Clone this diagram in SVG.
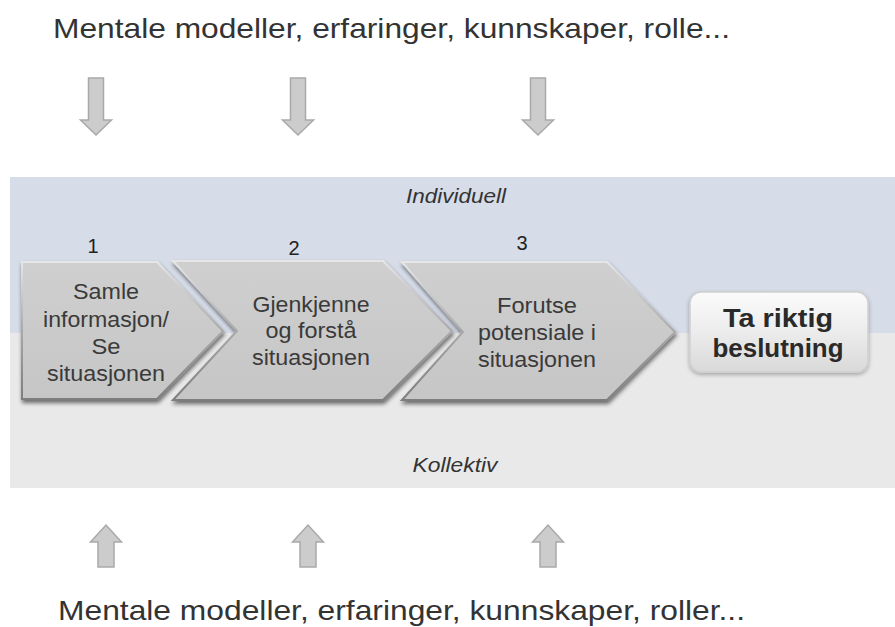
<svg xmlns="http://www.w3.org/2000/svg" width="895" height="627" viewBox="0 0 895 627">
  <style>
    .title { font-family: "Liberation Sans", Arial, sans-serif; font-size: 28px; fill: #333333; }
    .band-label { font-family: "Liberation Sans", Arial, sans-serif; font-size: 20px; font-style: italic; fill: #333333; text-anchor: middle; }
    .num { font-family: "Liberation Sans", Arial, sans-serif; font-size: 20px; fill: #222222; text-anchor: middle; }
    .step { font-family: "Liberation Sans", Arial, sans-serif; font-size: 22px; fill: #3a3a3a; text-anchor: middle; }
    .goal { font-family: "Liberation Sans", Arial, sans-serif; font-size: 26px; font-weight: bold; fill: #2a2a2a; text-anchor: middle; }
    .chev { fill: url(#chevFill); stroke: url(#chevEdge); stroke-width: 2; stroke-linejoin: miter; filter: url(#shadow); }
    .block { fill: #cccccc; stroke: #a9a9a9; stroke-width: 1.5; }
  </style>
  <defs>
    <linearGradient id="chevFill" x1="0" y1="0" x2="0" y2="1">
      <stop offset="0" stop-color="#cfcfcf"/>
      <stop offset="1" stop-color="#c6c6c6"/>
    </linearGradient>
    <linearGradient id="chevEdge" x1="0" y1="0" x2="0" y2="1">
      <stop offset="0" stop-color="#e6e6e6"/>
      <stop offset="0.5" stop-color="#a9a9a9"/>
      <stop offset="1" stop-color="#7d7d7d"/>
    </linearGradient>
    <linearGradient id="goalFill" x1="0" y1="0" x2="0" y2="1">
      <stop offset="0" stop-color="#fbfbfb"/>
      <stop offset="0.5" stop-color="#ececec"/>
      <stop offset="1" stop-color="#d9d9d9"/>
    </linearGradient>
    <filter id="shadow" x="-10%" y="-10%" width="120%" height="130%">
      <feGaussianBlur in="SourceAlpha" stdDeviation="2"/>
      <feOffset dx="1" dy="3" result="off"/>
      <feComponentTransfer><feFuncA type="linear" slope="0.55"/></feComponentTransfer>
      <feMerge><feMergeNode/><feMergeNode in="SourceGraphic"/></feMerge>
    </filter>
    <filter id="softShadow" x="-10%" y="-10%" width="120%" height="140%">
      <feGaussianBlur in="SourceAlpha" stdDeviation="2"/>
      <feOffset dx="0" dy="2"/>
      <feComponentTransfer><feFuncA type="linear" slope="0.3"/></feComponentTransfer>
      <feMerge><feMergeNode/><feMergeNode in="SourceGraphic"/></feMerge>
    </filter>
  </defs>

  <!-- headline -->
  <text class="title" x="53" y="38" textLength="677" lengthAdjust="spacingAndGlyphs">Mentale modeller, erfaringer, kunnskaper, rolle...</text>

  <!-- background bands -->
  <g id="bands">
    <rect x="10" y="177" width="885" height="156" fill="#d6dce8"/>
    <rect x="10" y="333" width="885" height="155" fill="#e9e9e9"/>
    <text class="band-label" x="456" y="203" textLength="100" lengthAdjust="spacingAndGlyphs">Individuell</text>
    <text class="band-label" x="455" y="472" textLength="85" lengthAdjust="spacingAndGlyphs">Kollektiv</text>
  </g>

  <!-- input / output block arrows -->
  <g id="connectors">
    <path class="block" d="M88.5,78 H103.5 V120 H111.5 L96,135 L80.5,120 H88.5 Z"/>
    <path class="block" d="M290.5,78 H305.5 V120 H313.5 L298,135 L282.5,120 H290.5 Z"/>
    <path class="block" d="M530.5,78 H545.5 V120 H553.5 L538,135 L522.5,120 H530.5 Z"/>
    <path class="block" d="M98,567 H114 V542 H121.5 L106,525 L90.5,542 H98 Z"/>
    <path class="block" d="M300,567 H316 V542 H323.5 L308,525 L292.5,542 H300 Z"/>
    <path class="block" d="M540,567 H556 V542 H563.5 L548,525 L532.5,542 H540 Z"/>
  </g>

  <!-- step 1 -->
  <g id="step1">
    <text class="num" x="93" y="253">1</text>
    <polygon class="chev" points="22,262 157,262 223,331 157,399 22,399"/>
    <text class="step" x="106" y="299" textLength="66" lengthAdjust="spacingAndGlyphs">Samle</text>
    <text class="step" x="106" y="327" textLength="126" lengthAdjust="spacingAndGlyphs">informasjon/</text>
    <text class="step" x="106" y="354" textLength="29" lengthAdjust="spacingAndGlyphs">Se</text>
    <text class="step" x="106" y="381" textLength="118" lengthAdjust="spacingAndGlyphs">situasjonen</text>
  </g>

  <!-- step 2 -->
  <g id="step2">
    <text class="num" x="294" y="255">2</text>
    <polygon class="chev" points="173,261 383,261 452,331 383,400 173,400 237,331"/>
    <text class="step" x="311" y="312" textLength="117" lengthAdjust="spacingAndGlyphs">Gjenkjenne</text>
    <text class="step" x="311" y="338" textLength="91" lengthAdjust="spacingAndGlyphs">og forstå</text>
    <text class="step" x="311" y="365" textLength="118" lengthAdjust="spacingAndGlyphs">situasjonen</text>
  </g>

  <!-- step 3 -->
  <g id="step3">
    <text class="num" x="522" y="250">3</text>
    <polygon class="chev" points="402,262 607,262 675,332 607,400 402,400 463,332"/>
    <text class="step" x="537" y="313" textLength="80" lengthAdjust="spacingAndGlyphs">Forutse</text>
    <text class="step" x="537" y="340" textLength="118" lengthAdjust="spacingAndGlyphs">potensiale i</text>
    <text class="step" x="537" y="367" textLength="118" lengthAdjust="spacingAndGlyphs">situasjonen</text>
  </g>

  <!-- outcome -->
  <g id="decision">
    <rect x="690" y="292" width="178" height="80" rx="11" fill="url(#goalFill)" stroke="#cfcfcf" stroke-width="1.5" filter="url(#softShadow)"/>
    <text class="goal" x="778" y="327" textLength="110" lengthAdjust="spacingAndGlyphs">Ta riktig</text>
    <text class="goal" x="778" y="357" textLength="131" lengthAdjust="spacingAndGlyphs">beslutning</text>
  </g>

  <!-- closing line -->
  <text class="title" x="58" y="620" textLength="687" lengthAdjust="spacingAndGlyphs">Mentale modeller, erfaringer, kunnskaper, roller...</text>
</svg>
